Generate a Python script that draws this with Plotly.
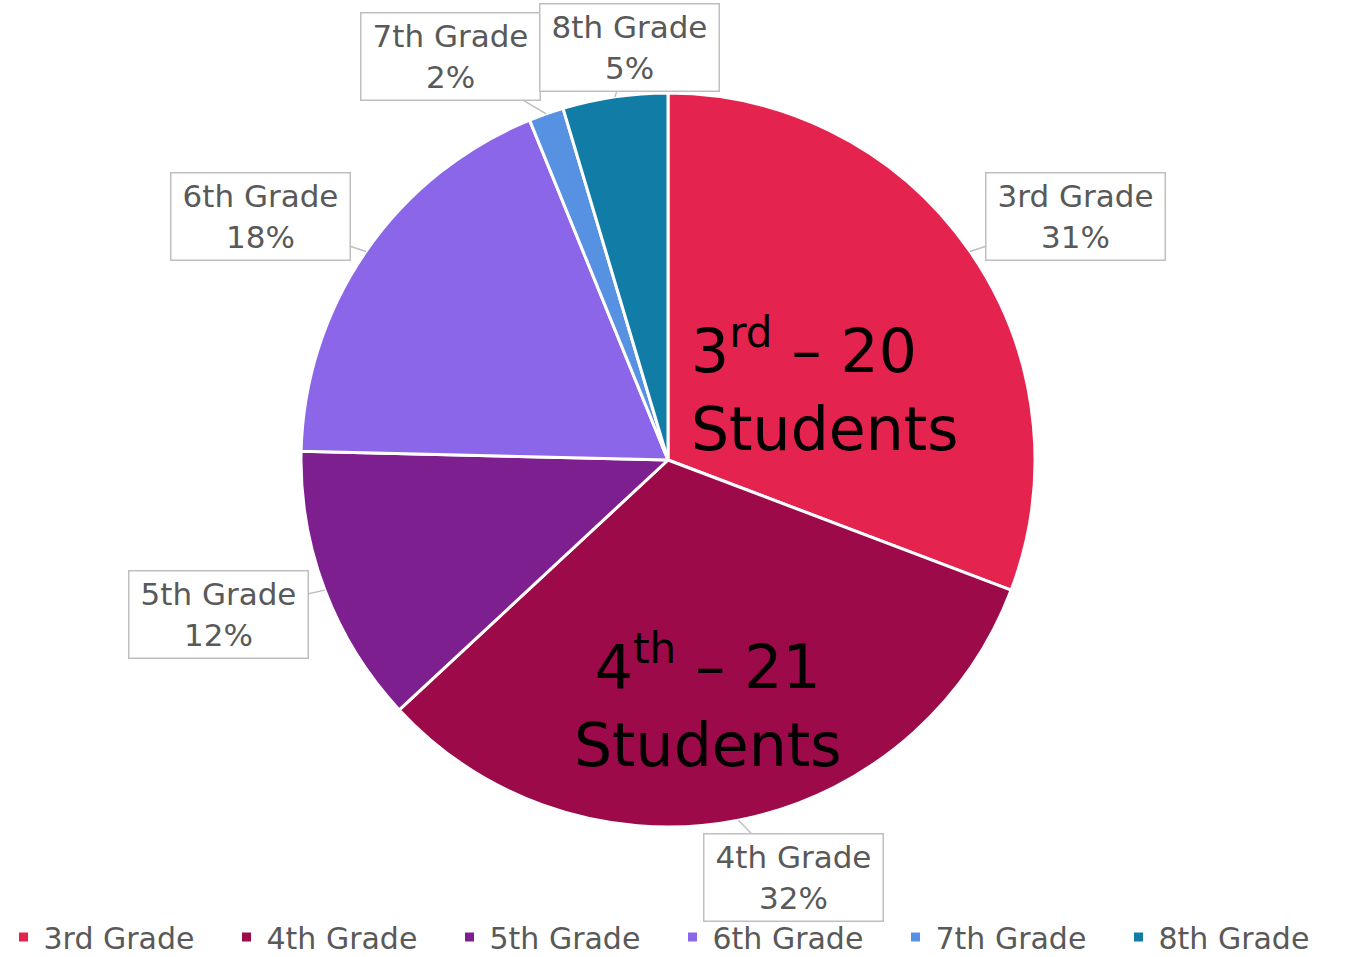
import math
import plotly.graph_objects as go

# ---- data ----
grades = ["3rd Grade", "4th Grade", "5th Grade", "6th Grade", "7th Grade", "8th Grade"]
students = [20, 21, 8, 12, 1, 3]
colors = ["#E4234F", "#9D0A4A", "#7E1F8F", "#8C66E8", "#5791E1", "#117CA6"]

# ---- layout / style ----
W, H = 1345, 957
CX, CY, R = 668, 460, 367          # pie centre and radius in px
FONT = "DejaVu Sans"
GRAY = "#595959"
# callout box offsets (px) relative to the rim point at each slice's mid angle
label_offsets = [(105, -35), (55, 57), (-106, 24), (-105, -35), (-96, -57), (15, -49)]

dom_x = [(CX - R) / W, (CX + R) / W]
dom_y = [(H - CY - R) / H, (H - CY + R) / H]

fig = go.Figure(go.Pie(
    labels=grades, values=students, sort=False, direction="clockwise", rotation=0,
    marker=dict(colors=colors, line=dict(color="white", width=3)),
    textinfo="none", hoverinfo="label+value+percent",
    domain=dict(x=dom_x, y=dom_y),
))

total = sum(students)
annotations = []
cum = 0
for g, v, (ox, oy) in zip(grades, students, label_offsets):
    mid = (cum + v / 2) / total * 2 * math.pi
    cum += v
    px = CX + R * math.sin(mid)
    py = CY - R * math.cos(mid)
    pct = round(v / total * 100)
    annotations.append(dict(
        x=px / W, y=1 - py / H, xref="paper", yref="paper",
        text=f"{g}<br>{pct}%", showarrow=True, arrowhead=0, arrowwidth=1.5,
        arrowcolor="#BFBFBF", ax=ox, ay=oy, standoff=0,
        font=dict(family=FONT, size=31, color=GRAY),
        bgcolor="white", bordercolor="#BFBFBF", borderwidth=1.5,
        width=176, height=84, align="center",
    ))

# big in-slice text boxes
annotations.append(dict(
    x=689 / W, y=1 - 386 / H, xref="paper", yref="paper", xanchor="left", yanchor="middle",
    text=f"3<sup>rd</sup> – {students[0]}<br>Students", showarrow=False, align="left",
    font=dict(family=FONT, size=60, color="black"),
))
annotations.append(dict(
    x=707 / W, y=1 - 702 / H, xref="paper", yref="paper", xanchor="center", yanchor="middle",
    text=f"4<sup>th</sup> – {students[1]}<br>Students", showarrow=False, align="center",
    font=dict(family=FONT, size=60, color="black"),
))

fig.update_layout(
    width=W, height=H, margin=dict(l=0, r=0, t=0, b=0, autoexpand=False),
    paper_bgcolor="white", plot_bgcolor="white",
    font=dict(family=FONT, color=GRAY),
    showlegend=True,
    legend=dict(orientation="h", x=0.5, xanchor="center", y=-6 / H, yanchor="bottom",
                font=dict(family=FONT, size=30, color=GRAY),
                entrywidth=178, entrywidthmode="pixels", bgcolor="rgba(0,0,0,0)"),
    annotations=annotations,
)

fig.write_html("out.html", post_script="document.body.style.margin='0';",
               config={"displayModeBar": False})
